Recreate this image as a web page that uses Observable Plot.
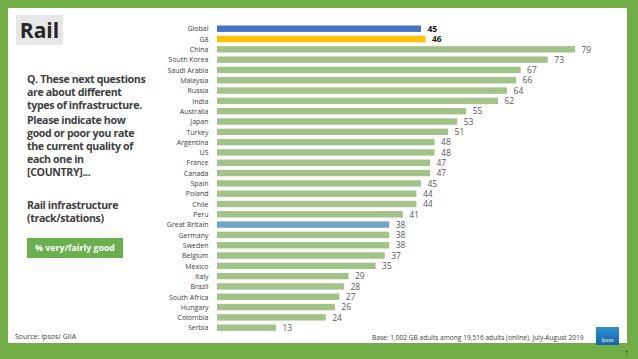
<!DOCTYPE html>
<html>
<head>
<meta charset="utf-8">
<script src="https://cdn.jsdelivr.net/npm/d3@7"></script>
<script src="https://cdn.jsdelivr.net/npm/@observablehq/plot@0.6"></script>
<style>
  html, body { margin: 0; padding: 0; }
  body { width: 638px; height: 359px; overflow: hidden; font-family: "Open Sans", "Noto Sans", sans-serif; }
  #page { position: relative; width: 638px; height: 359px; background: #70AD47; }
  #panel { position: absolute; left: 8px; top: 8px; width: 619px; height: 335px; background: #fff; }
  #title { position: absolute; left: 16px; top: 15px; width: 47px; height: 30px; background: #E7E7E7;
           font-weight: 700; font-size: 21px; line-height: 30px; text-align: center; color: #262626; }
  .txt { position: absolute; left: 27px; font-weight: 700; font-size: 10.6px; letter-spacing: -0.35px;
         line-height: 13px; color: #404040; white-space: nowrap; }
  #badge { position: absolute; left: 27px; top: 238px; width: 96px; height: 20px; background: #6AAF50;
           color: #fff; font-weight: 700; font-size: 8.8px; line-height: 20px; text-align: center; }
  #source { position: absolute; left: 15px; top: 332px; font-size: 7px; color: #404040; }
  #base { position: absolute; left: 372px; top: 332.5px; font-size: 6.6px; color: #404040; }
  #logo { position: absolute; left: 596px; top: 327px; width: 23px; height: 18px;
          background: linear-gradient(180deg, #2E8FD0 0%, #1565A8 100%);
          color: #fff; font-size: 5px; text-align: center; line-height: 27px; }
  #pnum { position: absolute; left: 625px; top: 350px; font-size: 5px; color: #333; }
  #chart { position: absolute; left: 140px; top: 20px; }
  #chart svg { display: block; }
</style>
</head>
<body>
<div id="page">
  <div id="panel"></div>
  <div id="title">Rail</div>
  <div class="txt" style="top:72.5px">Q. These next questions<br>are about different<br>types of infrastructure.</div>
  <div class="txt" style="top:113.5px">Please indicate how<br>good or poor you rate<br>the current quality of<br>each one in<br>[COUNTRY]...</div>
  <div class="txt" style="top:198.5px">Rail infrastructure<br>(track/stations)</div>
  <div id="badge">% very/fairly good</div>
  <div id="source">Source: Ipsos/ GIIA</div>
  <div id="base">Base: 1,002 GB adults among 19,516 adults (online), July-August 2019</div>
  <div id="logo">Ipsos</div>
  <div id="pnum">7</div>
  <div id="chart"></div>
</div>
<script>
const countries = ["Global","G8","China","South Korea","Saudi Arabia","Malaysia","Russia","India","Australia","Japan","Turkey","Argentina","US","France","Canada","Spain","Poland","Chile","Peru","Great Britain","Germany","Sweden","Belgium","Mexico","Italy","Brazil","South Africa","Hungary","Colombia","Serbia"];
const values = [45,46,79,73,67,66,64,62,55,53,51,48,48,47,47,45,44,44,41,38,38,38,37,35,29,28,27,26,24,13];

const highlight = { "Global": "#4472C4", "G8": "#FFC000", "Great Britain": "#6FA3C7" };
const boldRows = new Set(["Global", "G8"]);
const rows = countries.map((c, i) => ({ country: c, value: values[i] }));

const chart = Plot.plot({
  width: 470,
  height: 320,
  marginTop: 1.6,
  marginBottom: 5.2,
  marginLeft: 77,
  marginRight: 35,
  style: { fontFamily: "'Open Sans', 'Noto Sans', sans-serif", background: "transparent" },
  x: { domain: [0, 79], range: [77, 435], axis: null },
  y: { domain: countries, padding: 0.38, round: false, range: [1.6, 314.8], label: null },
  marks: [
    Plot.barX(rows, { x: "value", y: "country", fill: d => highlight[d.country] || "#A2C387" }),
    Plot.axisY({ tickSize: 0, tickPadding: 9, fontSize: 7, fill: "#404040", label: null }),
    Plot.text(rows.filter(d => !boldRows.has(d.country)), { x: "value", y: "country", text: d => String(d.value), dx: 6, textAnchor: "start", fontSize: 8.5, fill: "#595959" }),
    Plot.text(rows.filter(d => boldRows.has(d.country)), { x: "value", y: "country", text: d => String(d.value), dx: 6, textAnchor: "start", fontSize: 8.5, fontWeight: "bold", fill: "#1a1a1a" })
  ]
});
document.getElementById("chart").appendChild(chart);
</script>
</body>
</html>
